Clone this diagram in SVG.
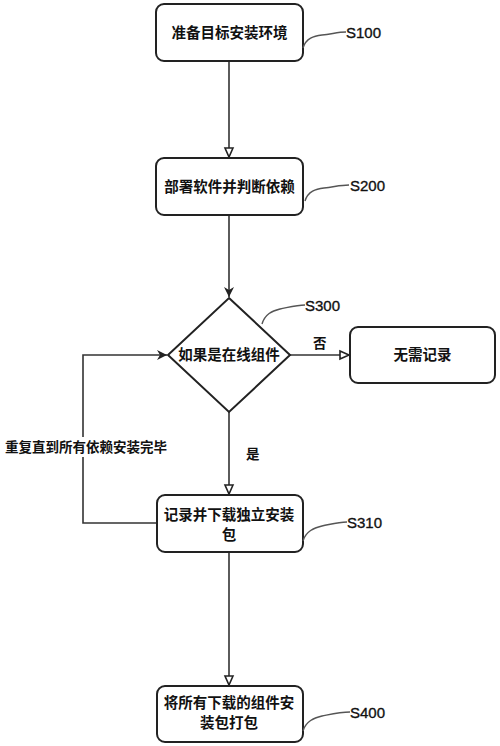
<svg xmlns="http://www.w3.org/2000/svg" width="500" height="746" viewBox="0 0 500 746">
<defs>
<style>
.box{fill:#fff;stroke:#222;stroke-width:2}
.ln{fill:none;stroke:#333;stroke-width:1.6}
.lead{fill:none;stroke:#555;stroke-width:1.4}
.t{font-family:"Noto Sans CJK SC","Noto Sans",sans-serif;font-size:14.5px;font-weight:bold;fill:#111;text-anchor:middle}
.lbl{font-family:"Noto Sans CJK SC","Noto Sans",sans-serif;font-size:13.5px;font-weight:bold;fill:#111}
.s{font-family:"Liberation Sans",Arial,sans-serif;font-size:15px;fill:#111;stroke:#111;stroke-width:0.35}
</style>
<marker id="hollow" markerWidth="12" markerHeight="12" refX="10" refY="5" orient="auto" markerUnits="userSpaceOnUse" viewBox="0 0 12 10">
<path d="M1,1 L10,5 L1,9 Z" fill="#fff" stroke="#222" stroke-width="1.6"/>
</marker>
<marker id="filled" markerWidth="11" markerHeight="11" refX="10" refY="5" orient="auto" markerUnits="userSpaceOnUse" viewBox="0 0 11 10">
<path d="M0,0 L10,5 L0,10 L3,5 Z" fill="#222"/>
</marker>
</defs>
<rect width="500" height="746" fill="#fff"/>
<g id="connectors">
<path class="ln" d="M229,61 V157" marker-end="url(#hollow)"/>
<path class="ln" d="M229,215 V297" marker-end="url(#filled)"/>
<path class="ln" d="M290,355 H349" marker-end="url(#hollow)"/>
<path class="ln" d="M229,412 V494" marker-end="url(#hollow)"/>
<path class="ln" d="M157,523 H83 V355 H167" marker-end="url(#filled)"/>
<path class="ln" d="M229,552 V685" marker-end="url(#hollow)"/>
<rect x="4" y="437" width="164" height="20" fill="#fff"/>
<text class="lbl" x="5" y="452">重复直到所有依赖安装完毕</text>
<text class="lbl" x="313" y="348">否</text>
<text class="lbl" x="246" y="459">是</text>
</g>
<g id="S100">
<rect class="box" x="156" y="4" width="147" height="57" rx="8"/>
<text class="t" x="229.5" y="38">准备目标安装环境</text>
<path class="lead" d="M303,48 C306,38 314,36 322,35 C332,34 338,32 346,32"/>
<text class="s" x="346" y="38">S100</text>
</g>
<g id="S200">
<rect class="box" x="156" y="158" width="147" height="57" rx="8"/>
<text class="t" x="229.5" y="192">部署软件并判断依赖</text>
<path class="lead" d="M305,201 C308,191 316,189 324,188 C334,187 340,185 349,185"/>
<text class="s" x="350" y="191">S200</text>
</g>
<g id="S300">
<path class="box" d="M229,298 L290,355 L229,412 L168,355 Z"/>
<text class="t" x="229" y="360">如果是在线组件</text>
<path class="lead" d="M262,324 C265,314 272,311 280,309 C290,307 297,305 305,305"/>
<text class="s" x="305" y="311">S300</text>
</g>
<g id="no-record">
<rect class="box" x="350" y="327" width="145" height="56" rx="8"/>
<text class="t" x="422.5" y="360">无需记录</text>
</g>
<g id="S310">
<rect class="box" x="157" y="495" width="146" height="57" rx="8"/>
<text class="t" x="229" y="520">记录并下载独立安装</text>
<text class="t" x="229" y="540">包</text>
<path class="lead" d="M303,541 C306,531 314,528 322,526 C332,524 338,522 347,522"/>
<text class="s" x="347" y="528">S310</text>
</g>
<g id="S400">
<rect class="box" x="157" y="686" width="146" height="56" rx="8"/>
<text class="t" x="229" y="708">将所有下载的组件安</text>
<text class="t" x="229" y="728">装包打包</text>
<path class="lead" d="M303,731 C306,721 314,718 322,716 C332,714 340,712 350,712"/>
<text class="s" x="350" y="718">S400</text>
</g>
</svg>
